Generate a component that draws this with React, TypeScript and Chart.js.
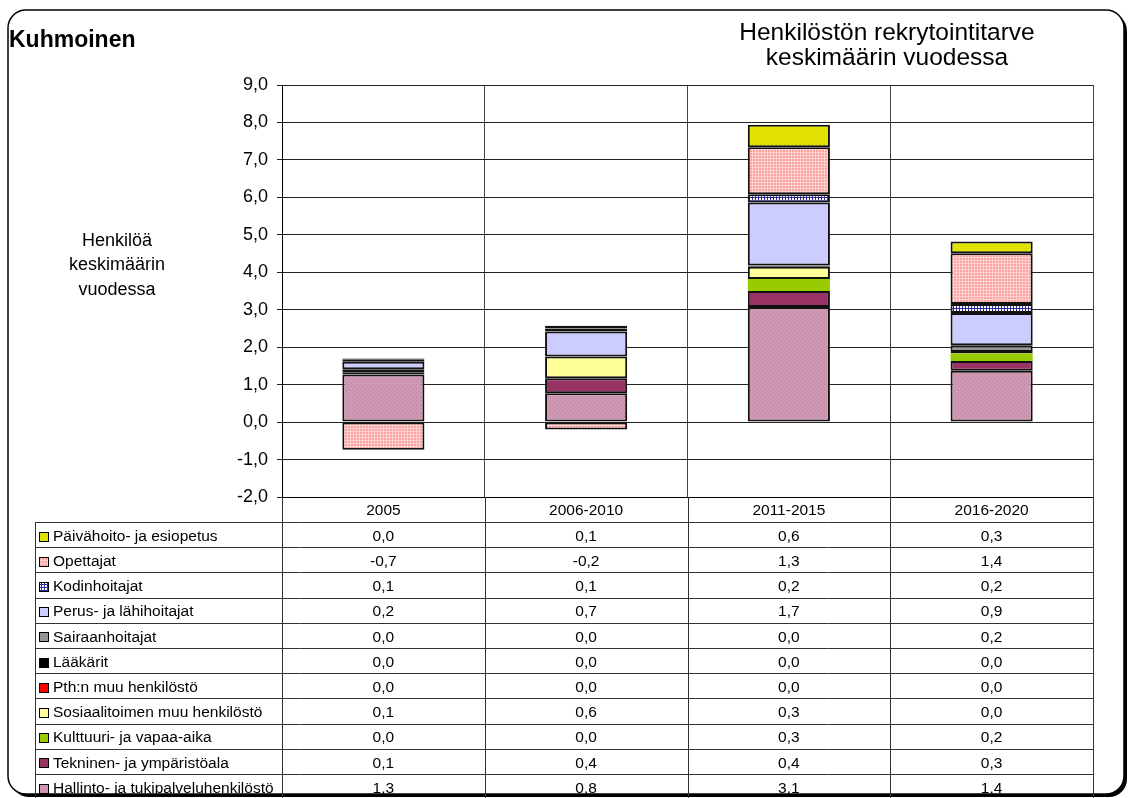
import React, { useEffect, useRef } from 'react';
import { Chart, registerables } from 'chart.js';
Chart.register(...registerables);

const W = 1133;
const H = 798;
const FONT = '"Liberation Sans", Arial, sans-serif';

const categories = ['2005', '2006-2010', '2011-2015', '2016-2020'];
const yTicksMin = -2;
const yTicksMax = 9;

// Series (bottom of stack first)
const hallinto = [1.27, 0.77, 3.07, 1.37];
const tekninen = [0.06, 0.4, 0.43, 0.26];
const kulttuuri = [0.0, 0.0, 0.32, 0.2];
const sosiaali = [0.06, 0.58, 0.33, 0.0];
const pthMuu = [0.0, 0.0, 0.0, 0.0];
const laakarit = [0.02, 0.0, 0.03, 0.04];
const sairaan = [0.0, 0.0, 0.0, 0.18];
const perus = [0.2, 0.67, 1.68, 0.86];
const kodin = [0.07, 0.08, 0.22, 0.24];
const opettajat = [-0.74, -0.2, 1.26, 1.36];
const paiva = [0.02, 0.07, 0.6, 0.31];

const seriesNames = [
  'Hallinto- ja tukipalveluhenkilöstö',
  'Tekninen- ja ympäristöala',
  'Kulttuuri- ja vapaa-aika',
  'Sosiaalitoimen muu henkilöstö',
  'Pth:n muu henkilöstö',
  'Lääkärit',
  'Sairaanhoitajat',
  'Perus- ja lähihoitajat',
  'Kodinhoitajat',
  'Opettajat',
  'Päivähoito- ja esiopetus',
];
const seriesValues = [hallinto, tekninen, kulttuuri, sosiaali, pthMuu, laakarit, sairaan, perus, kodin, opettajat, paiva];

function makePattern(w: number, h: number, draw: (g: CanvasRenderingContext2D) => void): CanvasPattern | string {
  const c = document.createElement('canvas');
  c.width = w;
  c.height = h;
  const g = c.getContext('2d');
  if (!g) return '#ccc';
  draw(g);
  return g.createPattern(c, 'repeat') || '#ccc';
}

function buildFills(): (CanvasPattern | string)[] {
  const hallintoP = makePattern(4, 4, (g) => {
    g.fillStyle = '#D09AB4';
    g.fillRect(0, 0, 4, 4);
    g.fillStyle = '#B47E9A';
    g.fillRect(0, 0, 1, 1);
    g.fillRect(2, 2, 1, 1);
  });
  const opettajatP = makePattern(3, 3, (g) => {
    g.fillStyle = '#FFD2D2';
    g.fillRect(0, 0, 3, 3);
    g.fillStyle = '#FFA0A0';
    g.fillRect(0, 0, 2, 2);
  });
  const kodinP = makePattern(3, 3, (g) => {
    g.fillStyle = '#FFFFFF';
    g.fillRect(0, 0, 3, 3);
    g.fillStyle = '#2B2B99';
    g.fillRect(0, 2, 3, 1);
    g.fillRect(2, 0, 1, 3);
  });
  const paivaP = makePattern(4, 4, (g) => {
    g.fillStyle = '#E6E600';
    g.fillRect(0, 0, 4, 4);
    g.fillStyle = '#CACA00';
    g.fillRect(0, 0, 1, 1);
    g.fillRect(2, 2, 1, 1);
  });
  return [
    hallintoP,
    '#993366',
    '#99CC00',
    '#FFFF99',
    '#FF0000',
    '#000000',
    '#969696',
    '#CCCCFF',
    kodinP,
    opettajatP,
    paivaP,
  ];
}

const fmt = (v: number) => Number(v).toFixed(1).replace('.', ',');

function makeFramePlugin(fills: (CanvasPattern | string)[]) {
  return {
    id: 'frameAndTable',
    beforeDraw(chart: any) {
      const ctx: CanvasRenderingContext2D = chart.ctx;
      ctx.save();
      ctx.fillStyle = '#FFFFFF';
      ctx.fillRect(0, 0, W, H);
      ctx.fillStyle = '#000000';
      ctx.beginPath();
      (ctx as any).roundRect(11, 13, 1116, 784, 18);
      ctx.fill();
      ctx.fillStyle = '#FFFFFF';
      ctx.strokeStyle = '#000000';
      ctx.lineWidth = 1.5;
      ctx.beginPath();
      (ctx as any).roundRect(8, 10, 1116, 784, 18);
      ctx.fill();
      ctx.stroke();
      ctx.restore();
    },
    afterDraw(chart: any) {
      const ctx: CanvasRenderingContext2D = chart.ctx;
      const area = chart.chartArea;
      ctx.save();
      // Titles
      ctx.fillStyle = '#000';
      ctx.textBaseline = 'middle';
      ctx.textAlign = 'left';
      ctx.font = `bold 23px ${FONT}`;
      ctx.fillText('Kuhmoinen', 9, 41);
      ctx.textAlign = 'center';
      ctx.font = `24.5px ${FONT}`;
      ctx.fillText('Henkilöstön rekrytointitarve', 887, 33);
      ctx.fillText('keskimäärin vuodessa', 887, 58);
      // Y axis label
      ctx.font = `18px ${FONT}`;
      ctx.fillText('Henkilöä', 117, 241);
      ctx.fillText('keskimäärin', 117, 265);
      ctx.fillText('vuodessa', 117, 290);

      // Table
      const left = area.left;
      const right = area.right;
      const bottom = area.bottom;
      const colW = (right - left) / categories.length;
      const rowTop = 522;
      const rowH = 25.2;
      const tableLeft = 35;

      ctx.strokeStyle = '#333';
      ctx.lineWidth = 1;
      for (let i = 0; i <= seriesNames.length; i++) {
        const y = Math.round(rowTop + i * rowH) + 0.5;
        ctx.beginPath();
        ctx.moveTo(tableLeft, y);
        ctx.lineTo(right, y);
        ctx.stroke();
      }
      ctx.beginPath();
      ctx.moveTo(tableLeft + 0.5, rowTop);
      ctx.lineTo(tableLeft + 0.5, H);
      ctx.stroke();
      for (let j = 0; j <= categories.length; j++) {
        const x = Math.round(left + colW * j) + 0.5;
        ctx.beginPath();
        ctx.moveTo(x, bottom);
        ctx.lineTo(x, H);
        ctx.stroke();
      }

      ctx.font = `15.5px ${FONT}`;
      ctx.textAlign = 'center';
      categories.forEach((c, j) => {
        ctx.fillText(c, left + colW * (j + 0.5), (bottom + rowTop) / 2 + 1);
      });

      const n = seriesNames.length;
      for (let r = 0; r < n; r++) {
        const s = n - 1 - r;
        const yc = rowTop + rowH * (r + 0.5) + 2;
        ctx.fillStyle = fills[s] as any;
        ctx.fillRect(39, Math.round(yc - 5), 10, 10);
        ctx.strokeStyle = '#000';
        ctx.strokeRect(39.5, Math.round(yc - 5) + 0.5, 9, 9);
        ctx.fillStyle = '#000';
        ctx.textAlign = 'left';
        ctx.fillText(seriesNames[s], 53, yc);
        ctx.textAlign = 'center';
        seriesValues[s].forEach((v, j) => {
          ctx.fillText(fmt(v), left + colW * (j + 0.5), yc);
        });
      }
      ctx.restore();
    },
  };
}

export default function App() {
  const ref = useRef<HTMLCanvasElement | null>(null);
  useEffect(() => {
    if (!ref.current) return;
    const fills = buildFills();
    const datasets = seriesNames.map((name, i) => ({
      label: name,
      data: seriesValues[i],
      backgroundColor: fills[i] as any,
      borderColor: '#111111',
      borderWidth: i === 2 ? 0 : 2,
      borderSkipped: false as any,
      barPercentage: 0.405,
      categoryPercentage: 1,
    }));
    const chart: any = new Chart(ref.current, {
      type: 'bar',
      data: { labels: categories, datasets },
      options: {
        responsive: false,
        animation: false,
        layout: { padding: { left: 0, top: 85, right: 40, bottom: 301 } },
        plugins: { legend: { display: false }, tooltip: { enabled: false }, title: { display: false } },
        scales: {
          x: {
            stacked: true,
            grid: { offset: true, color: '#444', drawTicks: false, lineWidth: 1 },
            border: { display: true, color: '#000', width: 1 },
            ticks: { display: false },
            afterFit: (s: any) => {
              s.height = 0;
            },
          },
          y: {
            stacked: true,
            min: yTicksMin,
            max: yTicksMax,
            ticks: {
              stepSize: 1,
              color: '#000',
              padding: 9,
              font: { family: FONT, size: 18 },
              callback: (v: any) => fmt(Number(v)),
            },
            grid: { color: '#222', tickLength: 5, lineWidth: 1 },
            border: { display: true, color: '#000', width: 1 },
            afterFit: (s: any) => {
              s.width = 282;
            },
          },
        },
      },
      plugins: [makeFramePlugin(fills)],
    });
    return () => chart.destroy();
  }, []);
  return (
    <div style={{ position: 'fixed', left: 0, top: 0, width: W, height: H, background: '#fff' }}>
      <canvas ref={ref} width={W} height={H} style={{ display: 'block' }} />
    </div>
  );
}
